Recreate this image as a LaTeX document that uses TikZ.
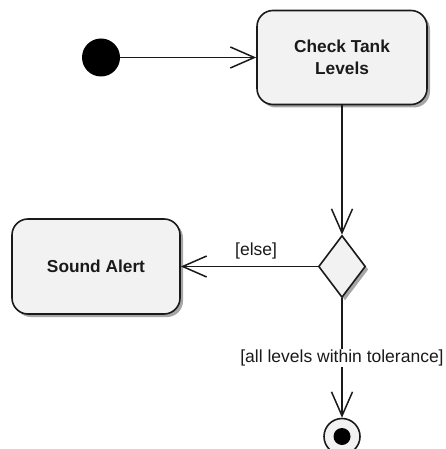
\documentclass[tikz,border=0pt]{standalone}
\usepackage{fontspec}
\setmainfont{Liberation Sans}
\usetikzlibrary{arrows.meta,shapes.geometric,shadows}
\definecolor{boxfill}{HTML}{F2F2F2}
\definecolor{ink}{HTML}{1A1A1A}
\tikzset{
  x=1pt, y=-1pt,
  shadowed/.style={drop shadow={shadow xshift=3pt, shadow yshift=-3pt, fill=black, opacity=0.35}},
  action/.style={draw=ink, line width=1.6pt, fill=boxfill, rounded corners=16pt, shadowed,
    font=\fontsize{17.3}{22}\selectfont\bfseries, text=ink, align=center, inner sep=0pt},
  decision/.style={draw=ink, line width=1.6pt, fill=boxfill, diamond, shadowed,
    minimum width=47pt, minimum height=62pt, inner sep=0pt},
  flow/.style={draw=ink, line width=1.5pt, -{Straight Barb[length=24pt,width=21pt,line width=1.5pt]}},
  guard/.style={font=\fontsize{17.5}{20}\selectfont, text=ink, inner sep=1pt}
}
\begin{document}
\begin{tikzpicture}
\useasboundingbox (0,0) rectangle (445,449);
\node[circle, fill=black, minimum size=38pt, inner sep=0pt] (init) at (101,57.5) {};
\node[action, minimum width=170pt, minimum height=94pt] (check) at (342,57.5) {Check Tank\\Levels};
\node[decision] (dec) at (342,266.5) {};
\node[action, minimum width=168pt, minimum height=95pt] (alert) at (96,266.5) {Sound Alert};
\node[circle, draw=ink, line width=1.6pt, fill=boxfill, minimum size=36pt, inner sep=0pt] (final) at (342,436.5) {};
\node[circle, fill=black, minimum size=17pt, inner sep=0pt] (finaldot) at (final.center) {};
\draw[flow] (init) -- (check);
\draw[flow] (check) -- (dec);
\draw[flow] (dec) -- node[guard, above, pos=0.45, yshift=6pt] {[else]} (alert);
\draw[flow] (dec) -- node[guard, fill=white, pos=0.5] {[all levels within tolerance]} (final);
\end{tikzpicture}
\end{document}
